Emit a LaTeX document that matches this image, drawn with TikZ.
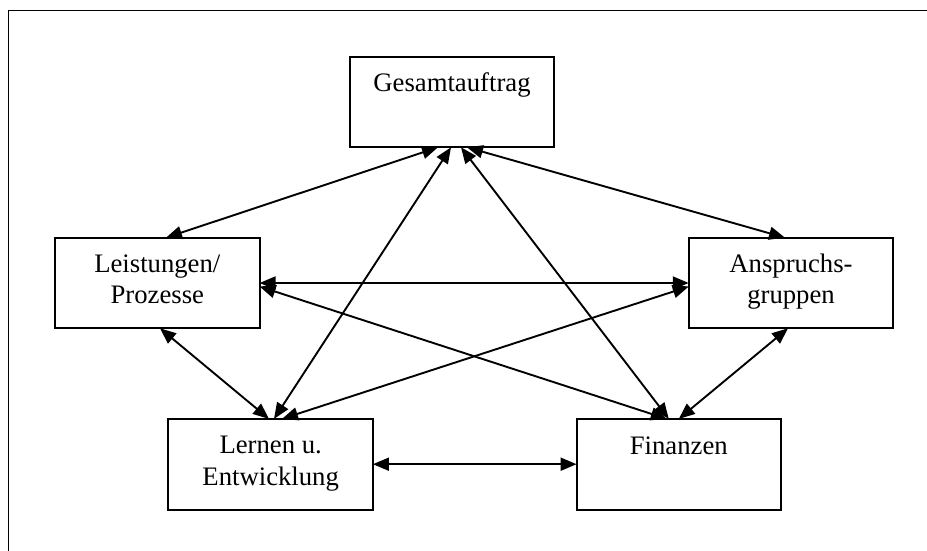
\documentclass[tikz,border=0pt]{standalone}
\usepackage{fontspec}
\setmainfont{Liberation Serif}
\usetikzlibrary{arrows.meta}
\begin{document}
\begin{tikzpicture}[x=1pt,y=-1pt,
  box/.style={draw, line width=2pt, minimum width=204.5pt, minimum height=90.6pt,
              inner sep=0pt, outer sep=0pt},
  lbl/.style={font=\fontsize{26.7}{30}\selectfont, inner sep=0pt, anchor=base},
  link/.style={line width=1.9pt,
               {Triangle[length=16pt,width=13pt]}-{Triangle[length=16pt,width=13pt]}}]
  \useasboundingbox (0,0) rectangle (927,551);

  % outer frame (top and left edges)
  \draw[line width=1.6pt] (927,10.5) -- (8.3,10.5) -- (8.3,551);

  % boxes
  \node[box] (ges) at (452,102) {};
  \node[box] (lei) at (157.3,283) {};
  \node[box] (ans) at (791,283) {};
  \node[box] (ler) at (270.7,464.2) {};
  \node[box] (fin) at (678.8,464.2) {};

  % box texts
  \node[lbl] (ges-t)  at ([yshift=-35.3]ges.north) {Gesamtauftrag};
  \node[lbl] (lei-t1) at ([yshift=-34.8]lei.north) {Leistungen/};
  \node[lbl] (lei-t2) at ([yshift=-65.4]lei.north) {Prozesse};
  \node[lbl] (ans-t1) at ([yshift=-34.8]ans.north) {Anspruchs-};
  \node[lbl] (ans-t2) at ([yshift=-65.4]ans.north) {gruppen};
  \node[lbl] (ler-t1) at ([yshift=-34.7]ler.north) {Lernen u.};
  \node[lbl] (ler-t2) at ([yshift=-66.3]ler.north) {Entwicklung};
  \node[lbl] (fin-t)  at ([yshift=-36]fin.north) {Finanzen};

  % connectors
  \draw[link] ([xshift=-14]ges.south) -- ([xshift=8.7]lei.north);
  \draw[link] ([xshift=-1]ges.south)  -- ([xshift=3.3]ler.north);
  \draw[link] ([xshift=9]ges.south)   -- ([xshift=-10]fin.north);
  \draw[link] ([xshift=15]ges.south)  -- ([xshift=-6]ans.north);
  \draw[link] (lei.east) -- (ans.west);
  \draw[link] ([yshift=-3.5]lei.east) -- ([xshift=-12]fin.north);
  \draw[link] ([yshift=-3.5]ans.west) -- ([xshift=11.3]ler.north);
  \draw[link] ([xshift=2.7]lei.south) -- ([xshift=-1.7]ler.north);
  \draw[link] ([xshift=-3]ans.south)  -- ([xshift=0]fin.north);
  \draw[link] (ler.east) -- (fin.west);
\end{tikzpicture}
\end{document}
